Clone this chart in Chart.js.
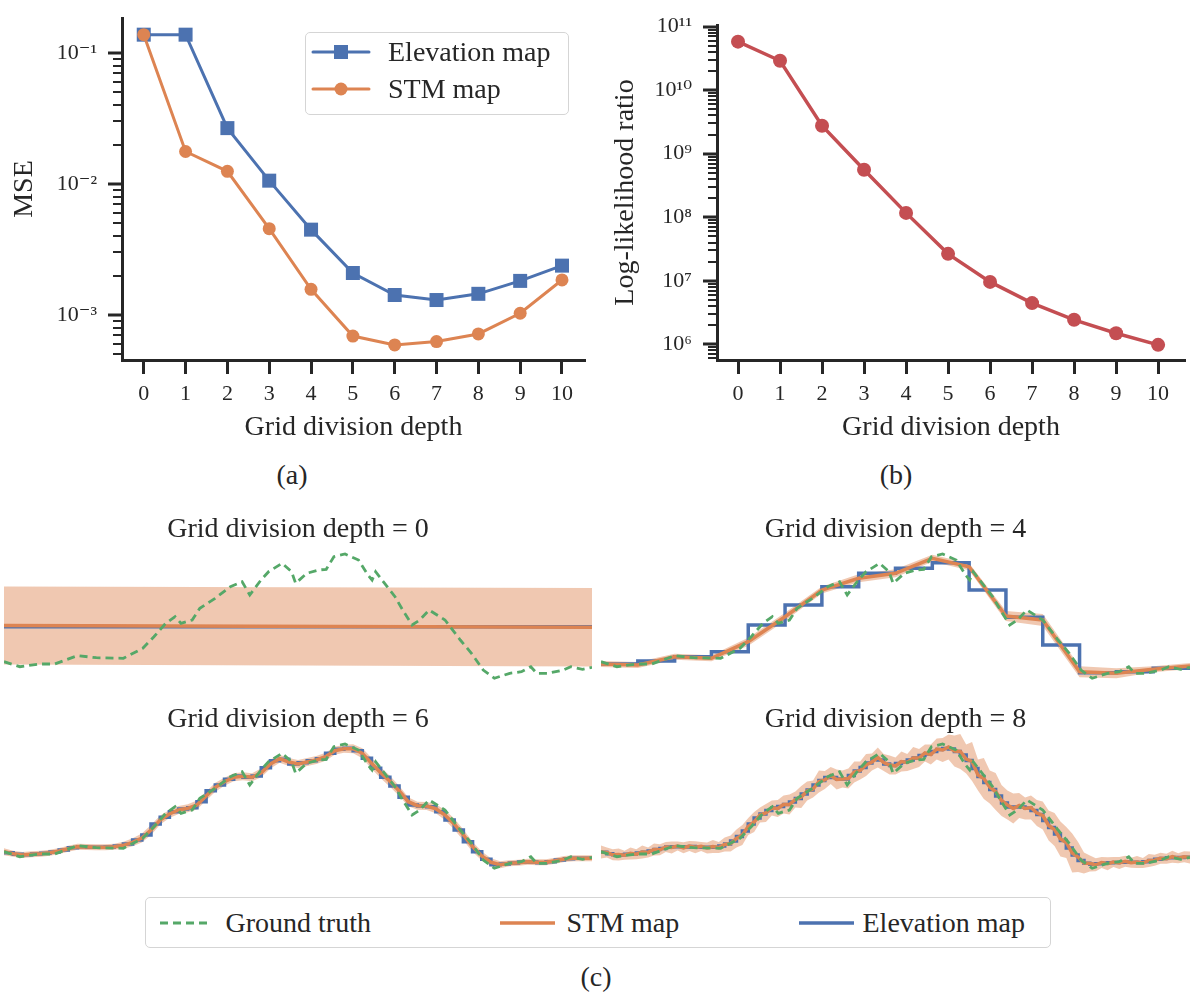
<!DOCTYPE html>
<html lang="en">

<head>
  <meta charset="UTF-8">
  <title>Grid division depth: MSE, log-likelihood ratio and terrain profiles</title>
  <script src="https://cdn.jsdelivr.net/npm/chart.js"></script>
  <style>
    body { margin: 0; background: #fff; }
    #page { position: relative; width: 1192px; height: 992px; overflow: hidden;
            font-family: "Liberation Serif", "DejaVu Serif", serif; color: #262626; }
    canvas { position: absolute; }
    .caption { position: absolute; width: 80px; margin-left: -40px; text-align: center;
               font-size: 28px; line-height: 32px; }
    .legend { position: absolute; box-sizing: border-box; border: 1.5px solid #d5d5d5;
              border-radius: 5px; background: rgba(255, 255, 255, 0.85); }
    .legend svg { position: absolute; }
    .legend span { position: absolute; font-size: 28px; line-height: 32px; white-space: nowrap; }
  </style>
</head>

<body>
  <div id="page">
    <!-- (a) and (b) -->
    <canvas id="mseChart" width="596" height="450" style="left:0;top:0"></canvas>
    <canvas id="llrChart" width="596" height="450" style="left:596px;top:0"></canvas>

    <div class="legend" style="left:305px;top:32px;width:264px;height:83px">
      <svg width="62" height="24" style="left:5px;top:7px">
        <line x1="2" y1="12" x2="58" y2="12" stroke="#4c72b0" stroke-width="3" stroke-linecap="round" />
        <rect x="23" y="5" width="14" height="14" fill="#4c72b0" />
      </svg>
      <span style="left:82px;top:3px">Elevation map</span>
      <svg width="62" height="24" style="left:5px;top:43.5px">
        <line x1="2" y1="12" x2="58" y2="12" stroke="#dd8452" stroke-width="3" stroke-linecap="round" />
        <circle cx="30" cy="12" r="6.5" fill="#dd8452" />
      </svg>
      <span style="left:82px;top:39.5px">STM map</span>
    </div>

    <div class="caption" style="left:292px;top:459px">(a)</div>
    <div class="caption" style="left:896px;top:459px">(b)</div>

    <!-- (c) -->
    <canvas id="depth0Chart" width="596" height="190" style="left:0;top:505px"></canvas>
    <canvas id="depth4Chart" width="596" height="190" style="left:596px;top:505px"></canvas>
    <canvas id="depth6Chart" width="596" height="190" style="left:0;top:695px"></canvas>
    <canvas id="depth8Chart" width="596" height="190" style="left:596px;top:695px"></canvas>

    <div class="legend" style="left:145px;top:897px;width:906px;height:51px">
      <svg width="56" height="20" style="left:11.5px;top:14.5px">
        <line x1="2" y1="10" x2="54" y2="10" stroke="#55a868" stroke-width="3" stroke-dasharray="8 5" />
      </svg>
      <span style="left:79.5px;top:8.5px">Ground truth</span>
      <svg width="60" height="20" style="left:351.5px;top:14.5px">
        <line x1="2" y1="10" x2="57" y2="10" stroke="#dd8452" stroke-width="3.5" />
      </svg>
      <span style="left:420.5px;top:8.5px">STM map</span>
      <svg width="60" height="20" style="left:650.5px;top:14.5px">
        <line x1="2" y1="10" x2="57" y2="10" stroke="#4c72b0" stroke-width="3.5" />
      </svg>
      <span style="left:716.5px;top:8.5px">Elevation map</span>
    </div>

    <div class="caption" style="left:596px;top:961px">(c)</div>
  </div>

  <script>
    // ---- (a) / (b) data ----
    const depths = [0, 1, 2, 3, 4, 5, 6, 7, 8, 9, 10];
    const mseElevation = [0.138, 0.138, 0.0267, 0.0106, 0.00448, 0.00209, 0.00142, 0.0013, 0.00145, 0.00182, 0.00238];
    const mseStm = [0.138, 0.0177, 0.0125, 0.00456, 0.00157, 0.00069, 0.00059, 0.000626, 0.000716, 0.00103, 0.00185];
    const logLikelihoodRatio = [5.8e10, 2.9e10, 2.75e9, 5.6e8, 1.17e8, 2.65e7, 9.6e6, 4.45e6, 2.43e6, 1.49e6, 9.8e5];

    // ---- (c) data: position along profile (%) and elevation ----
    const gtX = [0, 2.7, 6.0, 8.6, 12.5, 15.7, 20.3, 23.6, 25.5, 27.5, 29.1, 30.1, 32.0, 33.3, 35.9, 38.5, 40.5, 41.8,
      43.7, 45.0, 47.3, 48.9, 49.6, 51.5, 53.5, 54.8, 56.1, 58.0, 60.3, 61.9, 62.6, 63.2, 64.5, 66.5, 67.8, 69.4, 70.7,
      72.3, 75.0, 77.6, 79.5, 81.5, 83.4, 86.0, 88.0, 89.6, 90.6, 92.5, 95.1, 96.4, 98.4, 100];
    const gtY = [1.83, 1.33, 1.6, 1.6, 2.43, 2.23, 2.17, 3.17, 4.33, 5.67, 6.33, 5.67, 6.0, 7.17, 8.17, 9.33, 9.83, 8.5,
      10.0, 10.83, 11.67, 10.83, 9.67, 10.67, 11.0, 11.07, 12.33, 12.6, 12.0, 10.5, 10.0, 10.83, 9.83, 8.33, 7.0, 5.5, 6.0,
      7.0, 6.0, 4.0, 2.67, 1.0, 0.17, 0.67, 0.83, 1.33, 0.67, 0.67, 1.0, 1.33, 1.07, 1.27];

    // depth 0: one cell
    const elevation0 = [5.33];
    const stm0 = [5.45, 5.27];
    const band0 = [3.9, 3.92];

    // depth 4: 16 cells
    const elevation4 = [1.6, 1.9, 2.33, 2.83, 5.5, 7.5, 9.33, 10.67, 11.17, 11.73, 9.0, 6.27, 3.5, 0.73, 0.83, 1.17];
    const stm4 = [1.6, 1.5, 2.33, 2.17, 3.83, 6.33, 9.0, 10.17, 10.67, 12.17, 11.33, 6.4, 6.0, 0.83, 0.67, 1.07, 1.4];
    const band4 = [0.3, 0.3, 0.3, 0.3, 0.4, 0.4, 0.35, 0.4, 0.4, 0.35, 0.35, 0.5, 0.6, 0.55, 0.5, 0.3, 0.3];

    // depth 6: 64 cells
    const elevation6 = [1.73, 1.57, 1.53, 1.6, 1.67, 1.8, 2.0, 2.23, 2.33, 2.27,
      2.27, 2.3, 2.4, 2.6, 3.0, 3.5, 4.6, 5.27, 5.83, 6.1,
      6.23, 6.83, 7.93, 8.5, 9.07, 9.4, 9.27, 9.4, 10.23, 10.93,
      11.07, 10.6, 10.73, 10.93, 11.13, 11.67, 12.07, 12.17, 11.93, 11.17,
      10.17, 9.27, 8.4, 7.27, 6.5, 6.4, 6.33, 5.83, 5.0, 4.0,
      2.83, 1.83, 1.07, 0.53, 0.6, 0.7, 0.8, 0.8, 0.73, 0.83,
      1.0, 1.13, 1.17, 1.17];
    const stm6 = [1.83, 1.63, 1.5, 1.57, 1.63, 1.73, 1.9, 2.13, 2.33, 2.3,
      2.27, 2.27, 2.33, 2.47, 2.77, 3.2, 4.0, 5.0, 5.6, 6.0,
      6.17, 6.5, 7.4, 8.27, 8.83, 9.27, 9.37, 9.27, 9.73, 10.6,
      11.13, 10.8, 10.6, 10.8, 11.0, 11.33, 11.93, 12.13, 12.13, 11.67,
      10.67, 9.73, 8.87, 7.93, 6.83, 6.43, 6.4, 6.13, 5.5, 4.6,
      3.5, 2.33, 1.4, 0.77, 0.53, 0.67, 0.73, 0.83, 0.77, 0.77,
      0.93, 1.1, 1.17, 1.17, 1.17];
    const band6 = [0.35, 0.3, 0.3, 0.3, 0.3, 0.3, 0.3, 0.3, 0.3, 0.3,
      0.3, 0.3, 0.3, 0.35, 0.4, 0.45, 0.5, 0.45, 0.4, 0.4,
      0.4, 0.45, 0.45, 0.45, 0.4, 0.4, 0.4, 0.4, 0.45, 0.45,
      0.4, 0.4, 0.4, 0.4, 0.4, 0.4, 0.4, 0.4, 0.45, 0.5,
      0.55, 0.55, 0.55, 0.5, 0.45, 0.4, 0.4, 0.45, 0.5, 0.55,
      0.55, 0.5, 0.45, 0.4, 0.35, 0.3, 0.3, 0.3, 0.3, 0.3,
      0.3, 0.3, 0.3, 0.3, 0.3];

    // depth 8 (drawn at 1 % resolution)
    const elevation8 = [1.78, 1.62, 1.52, 1.5, 1.58, 1.6, 1.7, 1.78, 1.9, 2.05,
      2.15, 2.3, 2.32, 2.33, 2.3, 2.34, 2.3, 2.28, 2.27, 2.28,
      2.4, 2.6, 2.9, 3.35, 3.9, 4.6, 5.2, 5.6, 5.95, 6.2,
      6.35, 6.55, 6.8, 7.15, 7.6, 8.0, 8.5, 8.95, 9.25, 9.25,
      9.1, 9.1, 9.45, 9.9, 10.25, 10.7, 11.05, 11.0, 10.6, 10.45,
      10.65, 10.8, 11.0, 11.2, 11.45, 11.6, 11.85, 12.05, 12.15, 12.1,
      11.85, 11.5, 10.95, 10.15, 9.35, 8.75, 8.05, 7.4, 6.7, 6.3,
      6.3, 6.3, 6.2, 5.95, 5.55, 4.95, 4.25, 3.6, 2.95, 2.2,
      1.5, 0.95, 0.67, 0.58, 0.63, 0.68, 0.72, 0.75, 0.78, 0.8,
      0.77, 0.75, 0.82, 0.95, 1.07, 1.15, 1.23, 1.25, 1.25, 1.27];
    const stm8 = [1.8, 1.75, 1.52, 1.55, 1.48, 1.66, 1.58, 1.8, 1.76, 2.05,
      2.02, 2.3, 2.25, 2.4, 2.22, 2.4, 2.28, 2.36, 2.2, 2.34,
      2.24, 2.55, 2.65, 3.15, 3.5, 4.35, 4.8, 5.5, 5.7, 6.2,
      6.15, 6.55, 6.55, 7.05, 7.3, 7.9, 8.1, 8.85, 9.0, 9.45,
      9.05, 9.1, 9.15, 9.8, 9.95, 10.5, 10.8, 11.25, 10.75, 10.5,
      10.4, 10.85, 10.75, 11.2, 11.2, 11.7, 11.55, 12.1, 12.0, 12.3,
      11.9, 11.85, 11.1, 10.85, 9.5, 9.15, 8.3, 7.85, 6.95, 6.5,
      6.15, 6.45, 6.15, 6.25, 5.7, 5.45, 4.45, 4.05, 3.1, 2.75,
      1.7, 1.3, 0.7, 0.65, 0.52, 0.75, 0.62, 0.8, 0.7, 0.88,
      0.72, 0.8, 0.7, 0.95, 0.98, 1.18, 1.12, 1.33, 1.18, 1.32,
      1.24];
    const band8 = [0.65, 0.5, 0.55, 0.6, 0.45, 0.6, 0.5, 0.65, 0.5, 0.6, 0.55,
      0.5, 0.6, 0.45, 0.55, 0.5, 0.6, 0.45, 0.55, 0.65, 0.55,
      0.7, 0.8, 0.9, 1.0, 0.85, 1.0, 0.75, 0.9, 0.75, 0.85,
      0.9, 1.0, 0.8, 1.1, 0.95, 0.85, 1.1, 0.9, 0.85, 1.0,
      0.85, 1.0, 1.05, 0.9, 1.1, 0.85, 1.0, 0.85, 0.95, 0.85,
      1.0, 0.85, 1.1, 0.9, 0.85, 1.0, 1.05, 1.2, 1.25, 1.55,
      1.75, 1.45, 1.95, 1.55, 2.05, 1.65, 1.85, 1.55, 1.45, 1.5,
      1.25, 1.1, 1.2, 1.3, 1.4, 1.5, 1.65, 1.75, 1.55, 1.95,
      1.5, 1.05, 0.8, 0.65, 0.55, 0.65, 0.5, 0.6, 0.55, 0.5,
      0.6, 0.5, 0.65, 0.55, 0.55, 0.5, 0.6, 0.5, 0.55, 0.6];

    // ---- styling ----
    const BLUE = '#4c72b0', ORANGE = '#dd8452', GREEN = '#55a868', RED = '#c44e52', INK = '#262626';
    const SERIF = '"Liberation Serif", "DejaVu Serif", serif';
    Chart.defaults.font.family = SERIF;
    Chart.defaults.color = INK;

    function axisFont(size) {
      return { family: SERIF, size: size, weight: 'normal' };
    }

    // Superscript labels for powers of ten
    const SUP = { '-': '\u207b', '0': '\u2070', '1': '\u00b9', '2': '\u00b2', '3': '\u00b3', '4': '\u2074',
      '5': '\u2075', '6': '\u2076', '7': '\u2077', '8': '\u2078', '9': '\u2079' };

    function isDecade(v) {
      const e = Math.log10(v);
      return Math.abs(e - Math.round(e)) < 1e-6;
    }

    function decadeLabel(v) {
      return '10' + String(Math.round(Math.log10(v))).split('').map(c => SUP[c]).join('');
    }

    function logTicks(min, max) {
      const ticks = [];
      for (let e = Math.floor(Math.log10(min)); e <= Math.ceil(Math.log10(max)); e++) {
        for (let m = 1; m <= 9; m++) {
          const v = m * Math.pow(10, e);
          if (v >= min && v <= max) ticks.push({ value: v });
        }
      }
      return ticks;
    }

    // major / minor tick marks on the log axis
    const logTickMarks = {
      id: 'logTickMarks',
      afterDraw(chart) {
        const y = chart.scales.y;
        const ctx = chart.ctx;
        ctx.save();
        ctx.strokeStyle = INK;
        y.ticks.forEach(t => {
          const py = Math.round(y.getPixelForValue(t.value));
          const major = isDecade(t.value);
          ctx.lineWidth = major ? 3 : 2;
          ctx.beginPath();
          ctx.moveTo(y.right - (major ? 14 : 9), py);
          ctx.lineTo(y.right, py);
          ctx.stroke();
        });
        ctx.restore();
      }
    };

    function depthAxis(min, max) {
      return {
        type: 'linear', min: min, max: max,
        afterBuildTicks: s => { s.ticks = depths.map(d => ({ value: d })); },
        afterFit: s => { s.height = 90; },
        ticks: { font: axisFont(22), color: INK, padding: 7 },
        grid: { drawOnChartArea: false, drawTicks: true, tickLength: 14, tickWidth: 3, tickColor: INK },
        border: { display: true, width: 3, color: INK },
        title: { display: true, text: 'Grid division depth', font: axisFont(28), color: INK,
                 padding: { top: 0, bottom: 6 } }
      };
    }

    function logAxis(min, max, text, titleTop, width) {
      return {
        type: 'logarithmic', min: min, max: max,
        afterBuildTicks: s => { s.ticks = logTicks(min, max); },
        // fixed width, and no extra room reserved for the end labels
        afterFit: s => { s.width = width; s.paddingTop = 0; s.paddingBottom = 0; },
        ticks: { font: axisFont(22), color: INK, padding: 25, autoSkip: false,
                 callback: v => isDecade(v) ? decadeLabel(v) : '' },
        grid: { display: false, drawTicks: false },
        border: { display: true, width: 3, color: INK },
        title: { display: true, text: text, font: axisFont(28), color: INK,
                 padding: { top: titleTop, bottom: 0 } }
      };
    }

    const baseOptions = {
      responsive: false,
      animation: false,
      events: [],
      plugins: { legend: { display: false }, tooltip: { enabled: false } }
    };

    // (a) MSE
    new Chart(document.getElementById('mseChart'), {
      type: 'line',
      data: {
        datasets: [{
          label: 'STM map',
          data: depths.map((d, i) => ({ x: d, y: mseStm[i] })),
          borderColor: ORANGE, backgroundColor: ORANGE, borderWidth: 3,
          pointStyle: 'circle', pointRadius: 6.5, pointBorderWidth: 0, order: 1
        }, {
          label: 'Elevation map',
          data: depths.map((d, i) => ({ x: d, y: mseElevation[i] })),
          borderColor: BLUE, backgroundColor: BLUE, borderWidth: 3,
          pointStyle: 'rect', pointRadius: 9.9, pointBorderWidth: 0, order: 2
        }]
      },
      options: Object.assign({}, baseOptions, {
        layout: { padding: { top: 18, right: 11, left: 0, bottom: 0 } },
        scales: {
          x: depthAxis(-0.52, 10.55),
          y: logAxis(4.53e-4, 0.185, 'MSE', 8, 122)
        }
      }),
      plugins: [logTickMarks]
    });

    // (b) Log-likelihood ratio
    new Chart(document.getElementById('llrChart'), {
      type: 'line',
      data: {
        datasets: [{
          label: 'Log-likelihood ratio',
          data: depths.map((d, i) => ({ x: d, y: logLikelihoodRatio[i] })),
          borderColor: RED, backgroundColor: RED, borderWidth: 3.5,
          pointStyle: 'circle', pointRadius: 7, pointBorderWidth: 0
        }]
      },
      options: Object.assign({}, baseOptions, {
        layout: { padding: { top: 25, right: 4, left: 0, bottom: 0 } },
        scales: {
          x: depthAxis(-0.5, 10.64),
          y: logAxis(5.66e5, 1.06e11, 'Log-likelihood ratio', 13, 121)
        }
      }),
      plugins: [logTickMarks]
    });

    // (c) profiles
    function profileChart(canvasId, depth, elevation, stm, band, padLeft, padRight) {
      const stmPts = stm.map((v, i) => ({ x: i * 100 / (stm.length - 1), y: v }));
      const upper = stm.map((v, i) => ({ x: stmPts[i].x, y: v + band[i] }));
      const lower = stm.map((v, i) => ({ x: stmPts[i].x, y: v - band[i] }));
      const cells = elevation.map((v, i) => ({ x: i * 100 / elevation.length, y: v }));
      cells.push({ x: 100, y: elevation[elevation.length - 1] });
      const truth = gtX.map((x, i) => ({ x: x, y: gtY[i] }));

      new Chart(document.getElementById(canvasId), {
        type: 'line',
        data: {
          datasets: [
            { label: 'STM upper', data: upper, borderWidth: 0, pointRadius: 0, fill: false, order: 4 },
            { label: 'STM band', data: lower, borderWidth: 0, pointRadius: 0, fill: '-1',
              backgroundColor: 'rgba(221, 132, 82, 0.45)', order: 3 },
            { label: 'Elevation map', data: cells, stepped: true, borderColor: BLUE, borderWidth: 3.5,
              pointRadius: 0, order: 2 },
            { label: 'STM map', data: stmPts, borderColor: ORANGE, borderWidth: 3.5, pointRadius: 0, order: 1 },
            { label: 'Ground truth', data: truth, borderColor: GREEN, borderWidth: 2.8, borderDash: [8, 5],
              pointRadius: 0, order: 0 }
          ]
        },
        options: {
          responsive: false,
          animation: false,
          events: [],
          layout: { padding: { left: padLeft, right: padRight, top: 0, bottom: 0 } },
          plugins: {
            legend: { display: false },
            tooltip: { enabled: false },
            title: { display: true, text: 'Grid division depth = ' + depth, font: axisFont(28), color: INK,
                     padding: { top: 8.2, bottom: -6 } }
          },
          scales: {
            x: { type: 'linear', min: 0, max: 100, display: false },
            y: { min: -1.5, max: 13.92, display: false }
          }
        }
      });
    }

    profileChart('depth0Chart', 0, elevation0, stm0, band0, 4, 4);
    profileChart('depth4Chart', 4, elevation4, stm4, band4, 5, 2);
    profileChart('depth6Chart', 6, elevation6, stm6, band6, 4, 4);
    profileChart('depth8Chart', 8, elevation8, stm8, band8, 5, 2);
  </script>
</body>

</html>
